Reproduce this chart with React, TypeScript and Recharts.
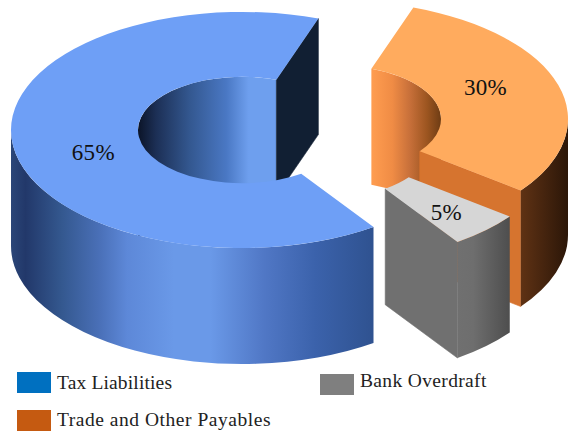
import { PieChart, Pie, Legend } from 'recharts';

// drawn back to front, so the order differs from the legend
const categories = ['Trade and Other Payables', 'Tax Liabilities', 'Bank Overdraft'];
const shares = [30, 65, 5];
const legendNames = ['Tax Liabilities', 'Bank Overdraft', 'Trade and Other Payables'];

const chartData = categories.map((name, i) => ({ name, value: shares[i] }));

const SQUASH = 0.511;
const DEPTH = 116;
const FONT = '"Liberation Serif", serif';

type Stop = [number, string];
type SliceLook = {
  id: string;
  dx: number;
  dy: number;
  top: string;
  face: string;
  outer: Stop[];
  inner: Stop[];
  labelR: number;
  labelNudgeX: number;
  labelNudgeY: number;
};

const looks: Record<string, SliceLook> = {
  'Tax Liabilities': {
    id: 'tax',
    dx: 0,
    dy: 0,
    top: '#6e9ff6',
    face: '#111f33',
    outer: [
      [0, '#2b4678'],
      [0.04, '#22386a'],
      [0.14, '#34588f'],
      [0.245, '#4a70b8'],
      [0.32, '#5d88d8'],
      [0.45, '#6a99e8'],
      [0.55, '#6a99e8'],
      [0.7, '#5077c5'],
      [0.84, '#3b62ab'],
      [1, '#2f5290'],
    ],
    inner: [
      [0, '#0b1428'],
      [0.13, '#1c2f55'],
      [0.37, '#33578f'],
      [0.64, '#4a78c4'],
      [0.8, '#6e9fee'],
      [1, '#6e9fee'],
    ],
    labelR: 150,
    labelNudgeX: 0,
    labelNudgeY: 12,
  },
  'Trade and Other Payables': {
    id: 'trade',
    dx: 95,
    dy: -11,
    top: '#ffab5e',
    face: '#d6742f',
    outer: [
      [0, '#5f3214'],
      [1, '#2b1608'],
    ],
    inner: [
      [0, '#ff9d50'],
      [0.3, '#f08c45'],
      [0.55, '#c8703a'],
      [0.8, '#9c5520'],
      [1, '#6e3c14'],
    ],
    labelR: 155,
    labelNudgeX: 0,
    labelNudgeY: -9,
  },
  'Bank Overdraft': {
    id: 'bank',
    dx: 84,
    dy: 15,
    top: '#d6d6d6',
    face: '#707070',
    outer: [
      [0, '#707070'],
      [0.3, '#6e6e6e'],
      [1, '#4e4e4e'],
    ],
    inner: [
      [0, '#707070'],
      [1, '#4e4e4e'],
    ],
    labelR: 170,
    labelNudgeX: 3,
    labelNudgeY: 5,
  },
};

const rad = (a: number) => (a * Math.PI) / 180;

// the part of [start, end] that lies in a half turn, e.g. 0..180 for the far side
function clipRange(start: number, end: number, from: number) {
  for (let k = -2; k <= 2; k++) {
    const lo = Math.max(start, from + 360 * k);
    const hi = Math.min(end, from + 180 + 360 * k);
    if (hi > lo) return [lo, hi];
  }
  return null;
}

function Slice(props: any) {
  const { cx, cy, innerRadius, outerRadius, startAngle, endAngle, name, payload } = props;
  const look = looks[name ?? payload?.name];
  const ox = cx + look.dx;
  const oy = cy + look.dy;

  const at = (r: number, a: number, drop = 0) =>
    `${ox + r * Math.cos(rad(a))} ${oy - r * SQUASH * Math.sin(rad(a)) + drop}`;
  const arc = (r: number, from: number, to: number, drop = 0) => {
    const large = Math.abs(to - from) > 180 ? 1 : 0;
    const sweep = to > from ? 0 : 1;
    return `A ${r} ${r * SQUASH} 0 ${large} ${sweep} ${at(r, to, drop)}`;
  };
  const wall = (r: number, lo: number, hi: number) =>
    `M ${at(r, lo)} ${arc(r, lo, hi)} L ${at(r, hi, DEPTH)} ${arc(r, hi, lo, DEPTH)} Z`;
  const face = (a: number) =>
    `M ${at(innerRadius, a)} L ${at(outerRadius, a)} L ${at(outerRadius, a, DEPTH)} L ${at(innerRadius, a, DEPTH)} Z`;

  const backPart = clipRange(startAngle, endAngle, 0);
  const frontPart = clipRange(startAngle, endAngle, 180);
  const showStart = Math.cos(rad(startAngle)) > 0;
  const showEnd = Math.cos(rad(endAngle)) < 0;

  return (
    <g>
      <defs>
        <linearGradient id={`${look.id}-outer`} x1="0" x2="1" y1="0" y2="0">
          {look.outer.map(([o, c]) => (
            <stop key={o} offset={o} stopColor={c} />
          ))}
        </linearGradient>
        <linearGradient id={`${look.id}-inner`} x1="0" x2="1" y1="0" y2="0">
          {look.inner.map(([o, c]) => (
            <stop key={o} offset={o} stopColor={c} />
          ))}
        </linearGradient>
      </defs>
      {backPart && <path d={wall(innerRadius, backPart[0], backPart[1])} fill={`url(#${look.id}-inner)`} />}
      {showStart && <path d={face(startAngle)} fill={look.face} stroke={look.face} strokeWidth={0.6} />}
      {showEnd && <path d={face(endAngle)} fill={look.face} stroke={look.face} strokeWidth={0.6} />}
      {frontPart && <path d={wall(outerRadius, frontPart[0], frontPart[1])} fill={`url(#${look.id}-outer)`} />}
      <path
        d={`M ${at(outerRadius, startAngle)} ${arc(outerRadius, startAngle, endAngle)} L ${at(innerRadius, endAngle)} ${arc(innerRadius, endAngle, startAngle)} Z`}
        fill={look.top}
      />
    </g>
  );
}

function SliceLabel(props: any) {
  const { cx, cy, midAngle, value, name, payload } = props;
  const look = looks[name ?? payload?.name];
  const x = cx + look.dx + look.labelR * Math.cos(rad(midAngle)) + look.labelNudgeX;
  const y = cy + look.dy - look.labelR * SQUASH * Math.sin(rad(midAngle)) + look.labelNudgeY;
  return (
    <text
      x={x}
      y={y}
      textAnchor="middle"
      dominantBaseline="central"
      fontFamily={FONT}
      fontSize={23}
      letterSpacing={0.3}
      fill="#111"
    >
      {`${value}%`}
    </text>
  );
}

const legendColors: Record<string, string> = {
  'Tax Liabilities': '#0070c0',
  'Bank Overdraft': '#7f7f7f',
  'Trade and Other Payables': '#c55a11',
};
// letter spacing stretches Liberation Serif to the width of the original's wider serif
const legendSpots: Record<string, { left: number; top: number; textTop: number; spacing: number }> = {
  'Tax Liabilities': { left: 17, top: 372, textTop: 372, spacing: 0.15 },
  'Bank Overdraft': { left: 320, top: 374, textTop: 370, spacing: 0.35 },
  'Trade and Other Payables': { left: 17, top: 410, textTop: 409, spacing: 0.53 },
};

function ChartLegend() {
  return (
    <div style={{ position: 'relative', width: 568, height: 432 }}>
      {legendNames.map((name) => {
        const spot = legendSpots[name];
        return (
          <div key={name}>
            <div
              style={{
                position: 'absolute',
                left: spot.left,
                top: spot.top,
                width: 34,
                height: 21,
                background: legendColors[name],
              }}
            />
            <div
              style={{
                position: 'absolute',
                left: spot.left + 40,
                top: spot.textTop,
                fontFamily: FONT,
                fontSize: 19.5,
                letterSpacing: spot.spacing,
                lineHeight: '22px',
                color: '#222',
                whiteSpace: 'nowrap',
              }}
            >
              {name}
            </div>
          </div>
        );
      })}
    </div>
  );
}

export default function App() {
  return (
    <div style={{ position: 'fixed', left: 0, top: 0, width: 568, height: 432, background: '#fff', overflow: 'hidden' }}>
      <PieChart width={568} height={432} margin={{ top: 0, right: 0, bottom: 0, left: 0 }}>
        <Pie
          data={chartData}
          dataKey="value"
          nameKey="name"
          cx={242}
          cy={130}
          innerRadius={104}
          outerRadius={231}
          startAngle={-37.3}
          endAngle={322.7}
          shape={Slice}
          label={SliceLabel}
          labelLine={false}
          isAnimationActive={false}
        />
        <Legend
          layout="vertical"
          align="center"
          verticalAlign="middle"
          content={ChartLegend}
          wrapperStyle={{ left: 0, top: 0, width: 568, height: 432, margin: 0 }}
        />
      </PieChart>
    </div>
  );
}
